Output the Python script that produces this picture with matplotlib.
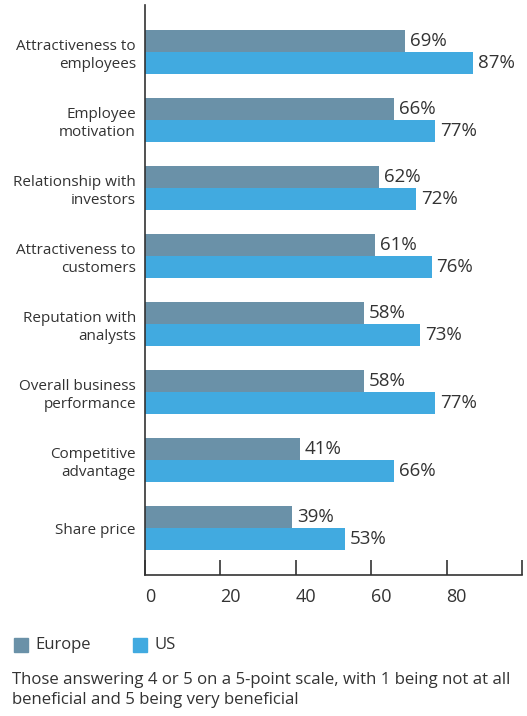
import matplotlib
matplotlib.use("Agg")
import matplotlib.pyplot as plt
from matplotlib.patches import Rectangle
import numpy as np

categories = ["Attractiveness to\nemployees", "Employee\nmotivation", "Relationship with\ninvestors",
              "Attractiveness to\ncustomers", "Reputation with\nanalysts", "Overall business\nperformance",
              "Competitive\nadvantage", "Share price"]
europe = [69, 66, 62, 61, 58, 58, 41, 39]
us = [87, 77, 72, 76, 73, 77, 66, 53]
xticks = [0, 20, 40, 60, 80, 100]
xticklabels = ["0", "20", "40", "60", "80", ""]
series_names = ["Europe", "US"]
caption = "Those answering 4 or 5 on a 5-point scale, with 1 being not at all\nbeneficial and 5 being very beneficial"

C_EU = "#6A91A8"
C_US = "#41AAE0"
TXT = "#333333"
plt.rcParams['font.family'] = ['Open Sans', 'DejaVu Sans']

fig = plt.figure(figsize=(5.27, 7.16), dpi=100)
ax = fig.add_axes([145/527, 1-575/716, (522-145)/527, 570/716])

y = np.arange(len(categories))
h = 22/68
ax.barh(y - h/2, europe, height=h, color=C_EU)
ax.barh(y + h/2, us, height=h, color=C_US)
for yi, v in zip(y, europe):
    ax.text(v + 1.3, yi - h/2, f"{v}%", va="center", ha="left", fontsize=13.5, color=TXT)
for yi, v in zip(y, us):
    ax.text(v + 1.3, yi + h/2, f"{v}%", va="center", ha="left", fontsize=13.5, color=TXT)

ax.set_xlim(0, 100)
ax.set_ylim(len(categories) - 1 + 0.69, -0.69)
ax.set_yticks(y)
ax.set_yticklabels(categories, fontsize=11, color=TXT, linespacing=1.3)
ax.tick_params(axis="y", length=0, pad=6.5)
ax.set_xticks(xticks)
ax.set_xticklabels(xticklabels, fontsize=13, color=TXT, ha="left")
ax.tick_params(axis="x", direction="in", length=11, width=1.2, color=TXT, pad=9)
for s in ["top", "right"]:
    ax.spines[s].set_visible(False)
for s in ["left", "bottom"]:
    ax.spines[s].set_color(TXT)
    ax.spines[s].set_linewidth(1.2)

# legend
W, H = 527, 716
for x0, col, name in [(14, C_EU, series_names[0]), (133, C_US, series_names[1])]:
    fig.patches.append(Rectangle((x0/W, 1-652/H), 14/W, 14/H, transform=fig.transFigure, color=col))
    fig.text((x0+21)/W, 1-645/H, name, fontsize=12, color=TXT, va="center", ha="left")

fig.text(12/W, 1-690/H, caption, fontsize=12.1, color=TXT, va="center", ha="left", linespacing=1.4)

fig.savefig("out.png", dpi=100)
